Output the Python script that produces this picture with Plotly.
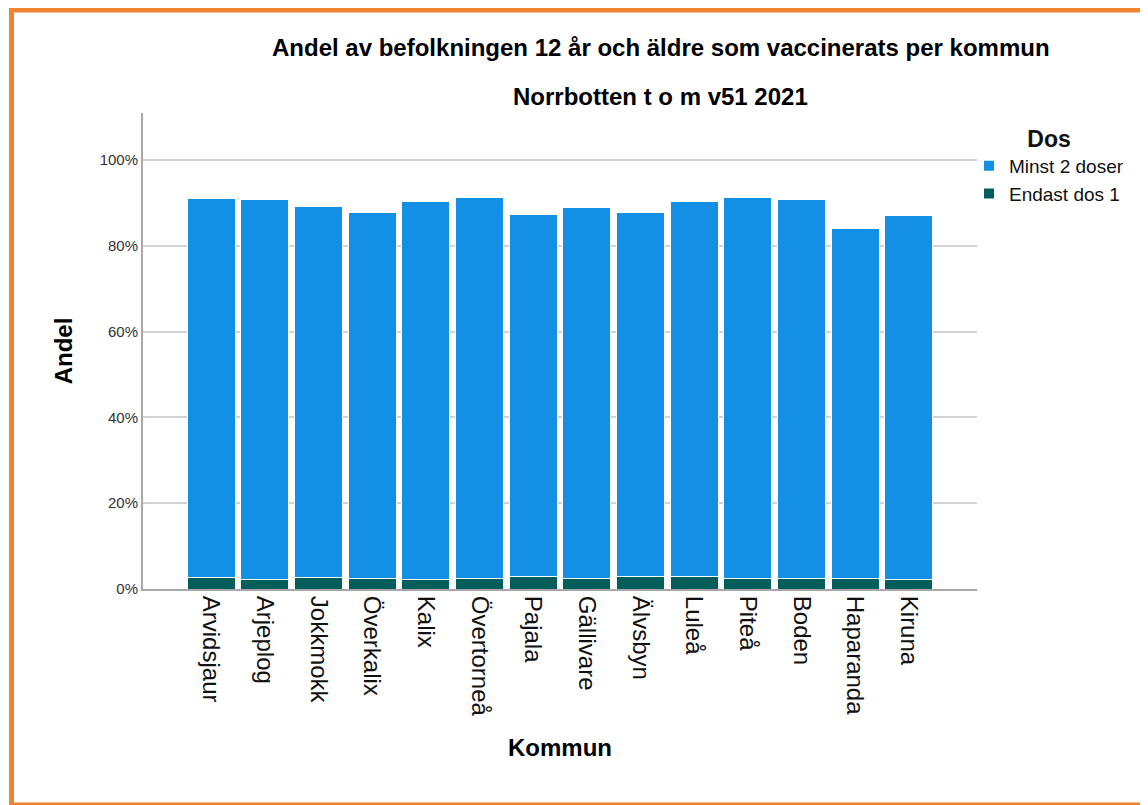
import plotly.graph_objects as go

kommuner = ["Arvidsjaur", "Arjeplog", "Jokkmokk", "Överkalix", "Kalix", "Övertorneå",
            "Pajala", "Gällivare", "Älvsbyn", "Luleå", "Piteå", "Boden", "Haparanda", "Kiruna"]
endast_dos_1 = [2.7, 2.2, 2.7, 2.4, 2.2, 2.4, 2.8, 2.5, 3.0, 2.8, 2.4, 2.5, 2.4, 2.2]
minst_2_doser = [88.3, 88.7, 86.4, 85.5, 88.1, 89.0, 84.6, 86.5, 84.9, 87.6, 89.0, 88.3, 81.7, 84.9]
y_ticks = [0, 20, 40, 60, 80, 100]
y_tick_labels = ["0%", "20%", "40%", "60%", "80%", "100%"]

blue = "#1390E6"
green = "#025E5B"

fig = go.Figure()
fig.add_trace(go.Bar(x=kommuner, y=endast_dos_1, name="Endast dos 1",
                     marker=dict(color=green, line=dict(color="white", width=1))))
fig.add_trace(go.Bar(x=kommuner, y=minst_2_doser, name="Minst 2 doser",
                     marker=dict(color=blue, line=dict(color="white", width=1))))

OFF = 8  # page body margin
L, R, T, B = 143, 977, 113, 589
W, H = 1148 - OFF, 805 - OFF


def px(x):
    return (x - L) / (R - L)


def py(y):
    return (B - y) / (B - T)


fig.update_layout(
    barmode="stack",
    bargap=0.1,
    width=W, height=H,
    margin=dict(l=L - OFF, r=1148 - R, t=T - OFF, b=805 - B, pad=0, autoexpand=False),
    paper_bgcolor="white",
    plot_bgcolor="white",
    font=dict(family="Liberation Sans, Arial, sans-serif", color="#000000"),
    showlegend=True,
    legend=dict(
        title=dict(text="<b>Dos</b>", font=dict(size=23), side="top center"),
        traceorder="reversed",
        x=px(969), y=py(117), xanchor="left", yanchor="top",
        font=dict(size=19, color="#111111"),
        bgcolor="rgba(0,0,0,0)",
        itemsizing="constant",
        tracegroupgap=0,
        itemwidth=30,
    ),
    xaxis=dict(
        range=[-1.27, 14.27],
        tickangle=90,
        tickfont=dict(size=24, color="#111111"),
        showline=True, linecolor="#A8A8A8", linewidth=2,
        showgrid=False, ticks="",
        title=dict(text="<b>Kommun</b>", font=dict(size=24), standoff=24),
    ),
    yaxis=dict(
        range=[0, 111],
        tickvals=y_ticks,
        ticktext=y_tick_labels,
        tickfont=dict(size=15, color="#333333"),
        showline=True, linecolor="#A8A8A8", linewidth=2,
        showgrid=True, gridcolor="#D3D3D3", gridwidth=1.5,
        zeroline=False, ticks="",
        title=dict(text="<b>Andel</b>", font=dict(size=24), standoff=20),
    ),
    annotations=[
        dict(text="<b>Andel av befolkningen 12 år och äldre som vaccinerats per kommun</b>",
             x=px(661), y=py(47), xref="paper", yref="paper", showarrow=False,
             xanchor="center", yanchor="middle", font=dict(size=24)),
        dict(text="<b>Norrbotten t o m v51 2021</b>",
             x=px(660), y=py(97), xref="paper", yref="paper", showarrow=False,
             xanchor="center", yanchor="middle", font=dict(size=24)),
    ],
    shapes=[
        dict(type="line", xref="paper", yref="paper", x0=px(11.5), x1=px(11.5),
             y0=py(7), y1=py(805), line=dict(color="#F08232", width=5)),
        dict(type="line", xref="paper", yref="paper", x0=px(9), x1=px(1160),
             y0=py(10), y1=py(10), line=dict(color="#F08232", width=5)),
        dict(type="line", xref="paper", yref="paper", x0=px(9), x1=px(1160),
             y0=py(804), y1=py(804), line=dict(color="#F08232", width=3)),
    ],
)

fig.write_html("out.html")
